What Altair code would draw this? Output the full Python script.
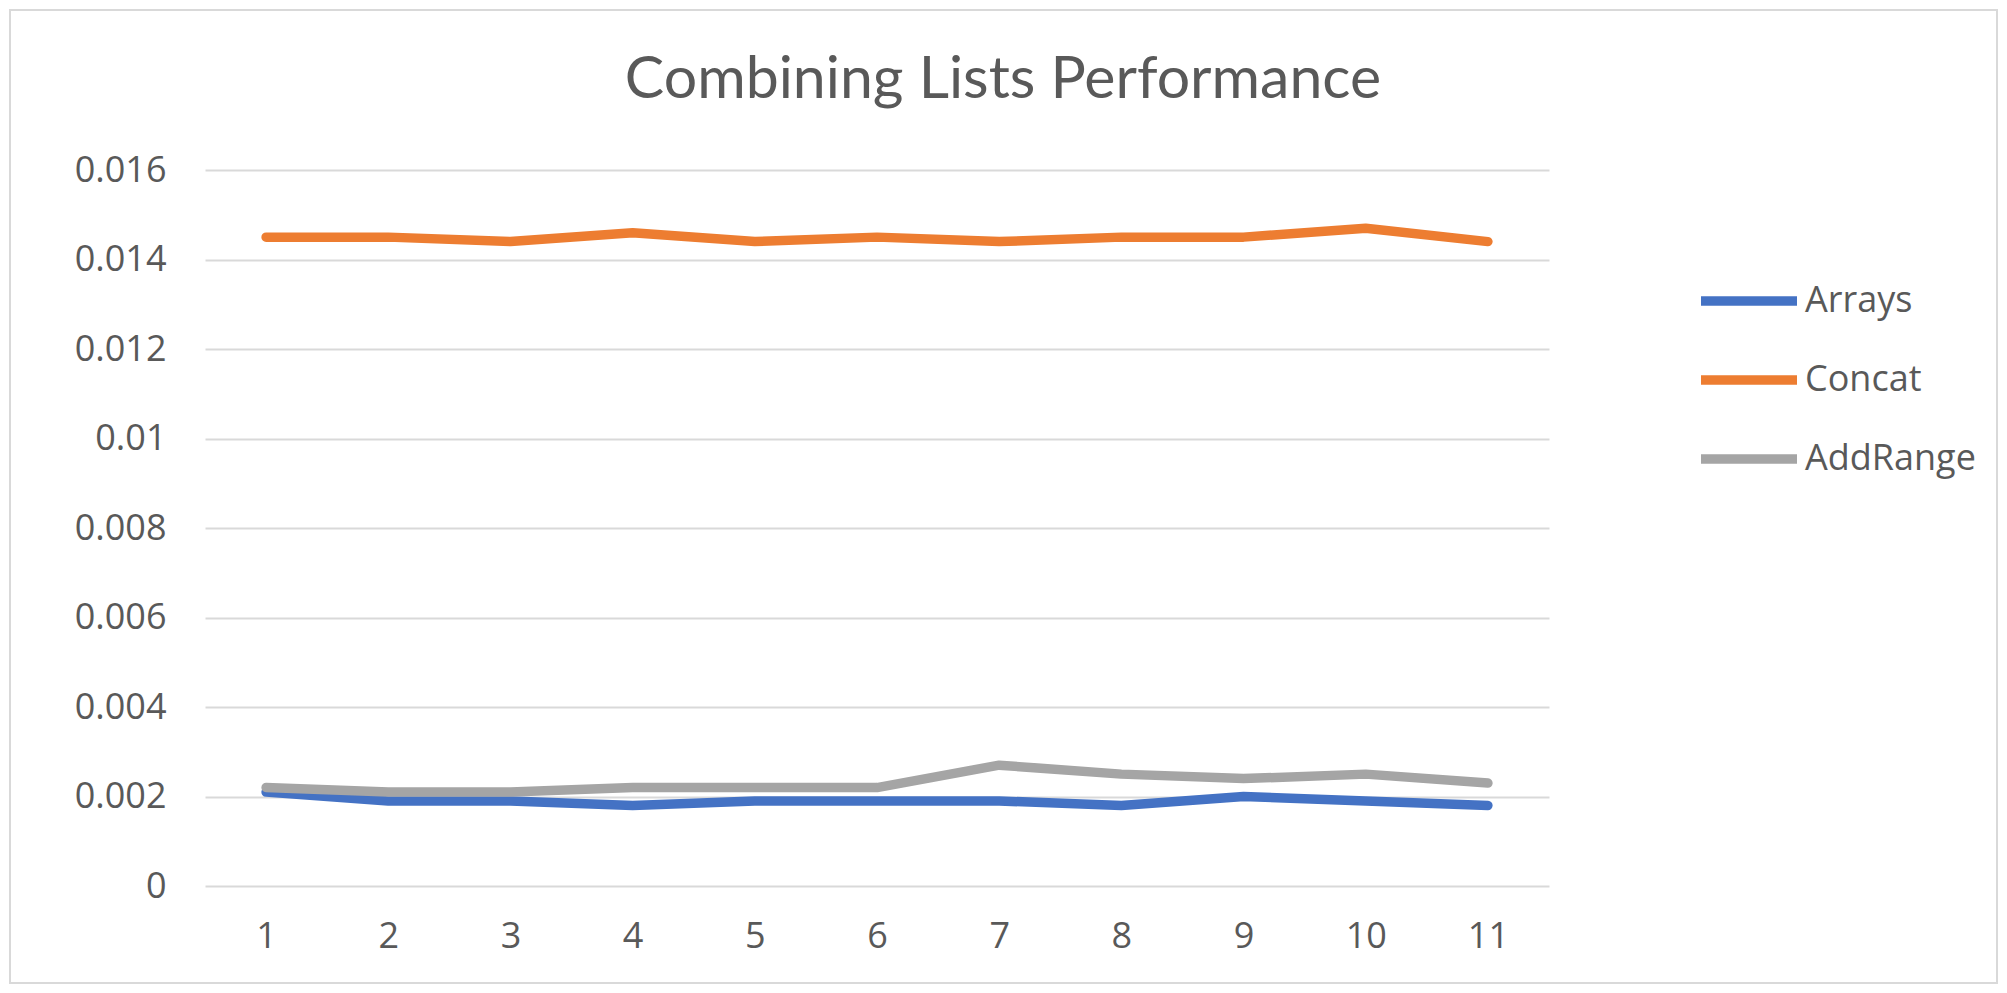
import altair as alt
import pandas as pd

runs = list(range(1, 12))
arrays = [0.0021, 0.0019, 0.0019, 0.0018, 0.0019, 0.0019, 0.0019, 0.0018, 0.0020, 0.0019, 0.0018]
concat = [0.0145, 0.0145, 0.0144, 0.0146, 0.0144, 0.0145, 0.0144, 0.0145, 0.0145, 0.0147, 0.0144]
addrange = [0.0022, 0.0021, 0.0021, 0.0022, 0.0022, 0.0022, 0.0027, 0.0025, 0.0024, 0.0025, 0.0023]
series_names = ["Arrays", "Concat", "AddRange"]
series_colors = ["#4472C4", "#ED7D31", "#A5A5A5"]
y_ticks = [0, 0.002, 0.004, 0.006, 0.008, 0.01, 0.012, 0.014, 0.016]

rows = []
for name, vals in zip(series_names, [arrays, concat, addrange]):
    for r, v in zip(runs, vals):
        rows.append({"run": r, "series": name, "value": v, "order": series_names.index(name)})
df = pd.DataFrame(rows)

W, H = 1344, 716
PAD = {"left": 197, "top": 162, "right": 1991 - 197 - W, "bottom": 977 - 162 - H}
TXT = "#595959"

lines = alt.Chart(df).mark_line(strokeWidth=9.5, strokeCap="round", strokeJoin="round").encode(
    x=alt.X("run:O", scale=alt.Scale(type="point", padding=0.5),
            axis=alt.Axis(title=None, labelAngle=0, ticks=False, domain=False,
                          labelPadding=33, labelFont="Open Sans", labelFontSize=36,
                          labelColor=TXT, grid=False)),
    y=alt.Y("value:Q", scale=alt.Scale(domain=[0, 0.016], nice=False),
            axis=alt.Axis(title=None, values=y_ticks, format=".3~f", ticks=False, domain=False,
                          labelPadding=39, labelFont="Open Sans", labelFontSize=36,
                          labelColor=TXT, gridColor="#D9D9D9", gridWidth=2)),
    color=alt.Color("series:N", scale=alt.Scale(domain=series_names, range=series_colors),
                    sort=series_names,
                    legend=alt.Legend(title=None, orient="none", legendX=1539, legendY=102,
                                      symbolType="M-3,0H1", symbolSize=2304, symbolStrokeWidth=9.5,
                                      labelFont="Open Sans", labelFontSize=36, labelColor=TXT,
                                      labelOffset=3, rowPadding=31, padding=0, labelLimit=0)),
    detail="series:N",
    order=alt.Order("order:Q"),
)

border = alt.Chart(pd.DataFrame({"a": [0]})).mark_rect(
    fill=None, stroke="#D9D9D9", strokeWidth=2
).encode(
    x=alt.value(-PAD["left"] + 2), x2=alt.value(W + PAD["right"] - 2),
    y=alt.value(-PAD["top"] + 2), y2=alt.value(H + PAD["bottom"] - 2),
)

chart = alt.layer(border, lines).properties(
    width=W, height=H,
    title=alt.TitleParams("Combining Lists Performance", font="Lato", fontSize=59,
                          fontWeight="normal", color=TXT, anchor="middle", frame="group",
                          dx=126, offset=-101),
    autosize=alt.AutoSizeParams(type="none"),
    padding=PAD,
    background="white",
).configure_view(stroke=None)

chart.save("out.html", embed_options={"renderer": "svg", "actions": False})
